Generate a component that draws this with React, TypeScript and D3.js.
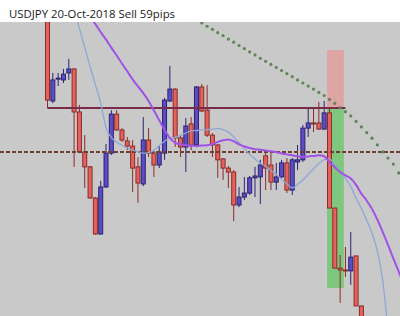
import React from "react";
import * as d3 from "d3";

const W = 400;
const H = 316;
const PLOT_TOP = 22;

const title = "USDJPY 20-Oct-2018 Sell 59pips";

const opens = [112.871, 112.573, 112.645, 112.642, 112.665, 112.678, 112.537, 112.406, 112.357, 112.255, 112.137, 112.291, 112.402, 112.530, 112.478, 112.442, 112.425, 112.357, 112.301, 112.445, 112.402, 112.363, 112.402, 112.573, 112.612, 112.452, 112.422, 112.498, 112.429, 112.619, 112.543, 112.461, 112.429, 112.383, 112.353, 112.340, 112.232, 112.258, 112.271, 112.321, 112.324, 112.393, 112.363, 112.307, 112.324, 112.370, 112.281, 112.373, 112.380, 112.484, 112.501, 112.501, 112.481, 112.534, 112.222, 112.025, 112.019, 112.016, 112.065, 111.901];
const highs = [112.888, 112.665, 112.665, 112.678, 112.711, 112.681, 112.560, 112.461, 112.360, 112.258, 112.311, 112.432, 112.543, 112.543, 112.484, 112.455, 112.445, 112.389, 112.520, 112.484, 112.412, 112.425, 112.583, 112.688, 112.615, 112.458, 112.517, 112.520, 112.622, 112.629, 112.625, 112.468, 112.432, 112.386, 112.360, 112.347, 112.291, 112.324, 112.327, 112.357, 112.380, 112.412, 112.402, 112.370, 112.380, 112.386, 112.386, 112.429, 112.494, 112.553, 112.550, 112.570, 112.573, 112.553, 112.222, 112.068, 112.094, 112.143, 112.065, 111.901];
const lows = [112.550, 112.566, 112.622, 112.632, 112.642, 112.357, 112.402, 112.288, 112.252, 112.134, 112.134, 112.288, 112.396, 112.475, 112.439, 112.412, 112.275, 112.239, 112.294, 112.389, 112.324, 112.353, 112.380, 112.570, 112.422, 112.389, 112.340, 112.412, 112.425, 112.537, 112.455, 112.389, 112.321, 112.314, 112.288, 112.179, 112.225, 112.248, 112.265, 112.258, 112.235, 112.281, 112.281, 112.281, 112.321, 112.271, 112.265, 112.347, 112.373, 112.455, 112.471, 112.478, 112.478, 112.222, 112.025, 111.911, 111.996, 111.970, 111.901, 111.822];
const closes = [112.576, 112.642, 112.648, 112.661, 112.678, 112.537, 112.406, 112.357, 112.255, 112.137, 112.291, 112.402, 112.530, 112.478, 112.445, 112.425, 112.353, 112.304, 112.445, 112.402, 112.363, 112.406, 112.576, 112.612, 112.452, 112.422, 112.491, 112.429, 112.619, 112.540, 112.461, 112.429, 112.380, 112.353, 112.340, 112.232, 112.258, 112.271, 112.321, 112.327, 112.363, 112.353, 112.307, 112.324, 112.370, 112.281, 112.380, 112.380, 112.484, 112.501, 112.499, 112.481, 112.534, 112.222, 112.025, 112.019, 112.017, 112.061, 111.901, 111.822];

const slowMAStart = 8;
const slowMA = [112.851, 112.825, 112.799, 112.774, 112.748, 112.722, 112.696, 112.670, 112.644, 112.621, 112.599, 112.573, 112.542, 112.510, 112.478, 112.451, 112.436, 112.431, 112.428, 112.427, 112.425, 112.427, 112.428, 112.432, 112.439, 112.444, 112.447, 112.441, 112.431, 112.424, 112.419, 112.415, 112.413, 112.411, 112.408, 112.405, 112.401, 112.398, 112.395, 112.391, 112.390, 112.391, 112.393, 112.395, 112.392, 112.372, 112.356, 112.340, 112.329, 112.319, 112.298, 112.269, 112.246, 112.219, 112.184, 112.144, 112.101, 112.057, 112.014, 111.970];

const fastMAStart = 5;
const fastMA = [112.872, 112.811, 112.749, 112.686, 112.626, 112.566, 112.486, 112.453, 112.438, 112.428, 112.419, 112.412, 112.407, 112.402, 112.404, 112.411, 112.427, 112.441, 112.452, 112.454, 112.460, 112.468, 112.475, 112.476, 112.478, 112.479, 112.481, 112.483, 112.479, 112.471, 112.455, 112.436, 112.417, 112.398, 112.383, 112.369, 112.359, 112.345, 112.332, 112.316, 112.302, 112.288, 112.299, 112.314, 112.332, 112.351, 112.368, 112.381, 112.383, 112.364, 112.341, 112.319, 112.293, 112.254, 112.221, 112.182, 112.139, 112.081, 111.986, 111.819];

const dotMAStart = 29;
const dotMA = [112.829, 112.818, 112.808, 112.797, 112.787, 112.776, 112.766, 112.755, 112.745, 112.734, 112.724, 112.713, 112.703, 112.693, 112.683, 112.673, 112.663, 112.653, 112.642, 112.632, 112.622, 112.612, 112.601, 112.591, 112.578, 112.565, 112.551, 112.538, 112.524, 112.506, 112.488, 112.469, 112.451, 112.429, 112.406, 112.386, 112.366, 112.337];

const resistanceLevel = 112.55;
const resistanceSpan = [0, 56];
const pivotLevel = 112.406;
const entryPrice = 112.55;
const stopPrice = 112.74;
const targetPrice = 111.96;
const tradeSpan = [52.55, 55.7];

const xScale = d3.scaleLinear().domain([0, 59]).range([47.5, 361.4]);
const yScale = d3.scaleLinear().domain([111.868, 112.832]).range([H, PLOT_TOP]);

const BULL_FILL = "#5c4dc6";
const BULL_STROKE = "#2c2272";
const BEAR_FILL = "#e3625d";
const BEAR_STROKE = "#8c2b28";

function maPath(values: number[], start: number) {
  const line = d3
    .line<number>()
    .x((_, i) => xScale(start + i))
    .y((v) => yScale(v))
    .curve(d3.curveMonotoneX);
  return line(values) || "";
}

export default function App() {
  const bodyW = 4;
  return (
    <svg
      width={W}
      height={H}
      style={{ position: "absolute", left: 0, top: 0, display: "block" }}
      xmlns="http://www.w3.org/2000/svg"
    >
      <defs>
        <clipPath id="plot">
          <rect x={0} y={PLOT_TOP} width={W} height={H - PLOT_TOP} />
        </clipPath>
      </defs>
      <rect x={0} y={0} width={W} height={H} fill="#ffffff" />
      <rect x={0} y={PLOT_TOP} width={W} height={H - PLOT_TOP} fill="#c9c9c9" />
      <text
        x={9}
        y={18}
        fontFamily="'Open Sans', 'Liberation Sans', sans-serif"
        fontSize={11.5}
        fill="#1a1a1a"
        textLength={166}
        lengthAdjust="spacingAndGlyphs"
      >
        {title}
      </text>
      <g clipPath="url(#plot)">
        {/* trade boxes */}
        <rect
          x={xScale(tradeSpan[0])}
          width={xScale(tradeSpan[1]) - xScale(tradeSpan[0])}
          y={yScale(stopPrice)}
          height={yScale(entryPrice) - yScale(stopPrice)}
          fill="#dea3a3"
        />
        <rect
          x={xScale(tradeSpan[0])}
          width={xScale(tradeSpan[1]) - xScale(tradeSpan[0])}
          y={yScale(entryPrice)}
          height={yScale(targetPrice) - yScale(entryPrice)}
          fill="#7fc77f"
        />
        {/* candles */}
        {opens.map((o, i) => {
          const c = closes[i];
          const bull = c >= o;
          const x = xScale(i);
          const top = yScale(Math.max(o, c));
          const bot = yScale(Math.min(o, c));
          const stroke = bull ? BULL_STROKE : BEAR_STROKE;
          return (
            <g key={i}>
              <line
                x1={x}
                x2={x}
                y1={yScale(highs[i])}
                y2={yScale(lows[i])}
                stroke={stroke}
                strokeWidth={1}
              />
              <rect
                x={x - bodyW / 2}
                y={top}
                width={bodyW}
                height={Math.max(1, bot - top)}
                fill={bull ? BULL_FILL : BEAR_FILL}
                stroke={stroke}
                strokeWidth={1}
              />
            </g>
          );
        })}
        {/* levels */}
        <line
          x1={xScale(resistanceSpan[0])}
          x2={xScale(resistanceSpan[1])}
          y1={yScale(resistanceLevel)}
          y2={yScale(resistanceLevel)}
          stroke="#7a2a4a"
          strokeWidth={2}
        />
        <line
          x1={0}
          x2={W}
          y1={yScale(pivotLevel)}
          y2={yScale(pivotLevel)}
          stroke="#6e4032"
          strokeWidth={2}
          strokeDasharray="4 2"
        />
        {/* moving averages */}
        <path d={maPath(fastMA, fastMAStart)} fill="none" stroke="#8ea8d6" strokeWidth={1.3} />
        <path d={maPath(slowMA, slowMAStart)} fill="none" stroke="#a052e6" strokeWidth={2} />
        {dotMA.map((v, i) => (
          <circle key={i} cx={xScale(dotMAStart + i)} cy={yScale(v)} r={1.6} fill="#5f8656" />
        ))}
      </g>
    </svg>
  );
}
